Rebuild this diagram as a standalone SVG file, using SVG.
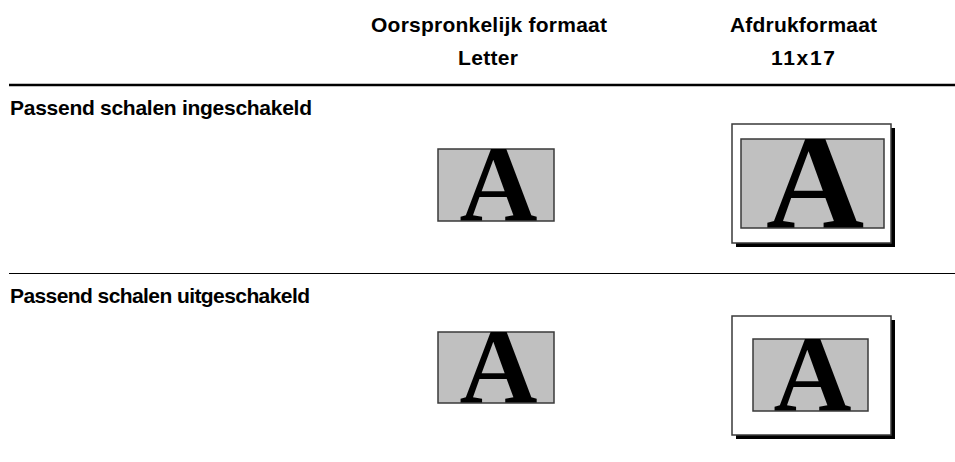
<svg xmlns="http://www.w3.org/2000/svg" width="955" height="462" viewBox="0 0 955 462">
<style>
.hd{font-family:"Liberation Sans",Arial,sans-serif;font-weight:bold;font-size:21px;fill:#000}
.gray{fill:#c0c0c0;stroke:#3a3a3a;stroke-width:1.5}
.page{fill:#fff;stroke:#3a3a3a;stroke-width:1.5}
.shadow{fill:#000}
.A{font-family:"Liberation Serif","Times New Roman",serif;font-weight:bold;fill:#000;text-anchor:middle}
</style>
<defs>
<clipPath id="c1"><rect x="438" y="149" width="116" height="72"/></clipPath>
<clipPath id="c2"><rect x="741" y="139" width="143" height="89"/></clipPath>
<clipPath id="c3"><rect x="438" y="332" width="116" height="71"/></clipPath>
<clipPath id="c4"><rect x="753" y="339" width="115" height="72"/></clipPath>
</defs>
<rect width="955" height="462" fill="#fff"/>
<g id="headers">
<text class="hd" x="371" y="32" textLength="236" lengthAdjust="spacing">Oorspronkelijk formaat</text>
<text class="hd" x="458" y="65" textLength="60" lengthAdjust="spacing">Letter</text>
<text class="hd" x="730" y="32" textLength="147" lengthAdjust="spacing">Afdrukformaat</text>
<text class="hd" x="771" y="65" textLength="64" lengthAdjust="spacing">11x17</text>
</g>
<g id="rules">
<line x1="9" y1="85" x2="955" y2="85" stroke="#000" stroke-width="2.5"/>
<line x1="9" y1="273.5" x2="955" y2="273.5" stroke="#000" stroke-width="1.2"/>
</g>
<g id="row1-label"><text class="hd" x="10" y="115" textLength="302" lengthAdjust="spacing">Passend schalen ingeschakeld</text></g>
<g id="row2-label"><text class="hd" x="10" y="303" textLength="300" lengthAdjust="spacing">Passend schalen uitgeschakeld</text></g>
<g id="orig1">
<rect class="gray" x="438" y="149" width="116" height="72"/>
<g clip-path="url(#c1)"><text class="A" x="498.5" y="221" font-size="108">A</text></g>
</g>
<g id="print1">
<rect class="shadow" x="736" y="128" width="159" height="119"/>
<rect class="page" x="732" y="124" width="159" height="119"/>
<rect class="gray" x="741" y="139" width="143" height="89"/>
<g clip-path="url(#c2)"><text class="A" x="815" y="228" font-size="136">A</text></g>
</g>
<g id="orig2">
<rect class="gray" x="438" y="332" width="116" height="71"/>
<g clip-path="url(#c3)"><text class="A" x="498.5" y="403" font-size="108">A</text></g>
</g>
<g id="print2">
<rect class="shadow" x="736" y="320" width="159" height="119"/>
<rect class="page" x="732" y="316" width="159" height="119"/>
<rect class="gray" x="753" y="339" width="115" height="72"/>
<g clip-path="url(#c4)"><text class="A" x="812.5" y="411" font-size="108">A</text></g>
</g>
</svg>
